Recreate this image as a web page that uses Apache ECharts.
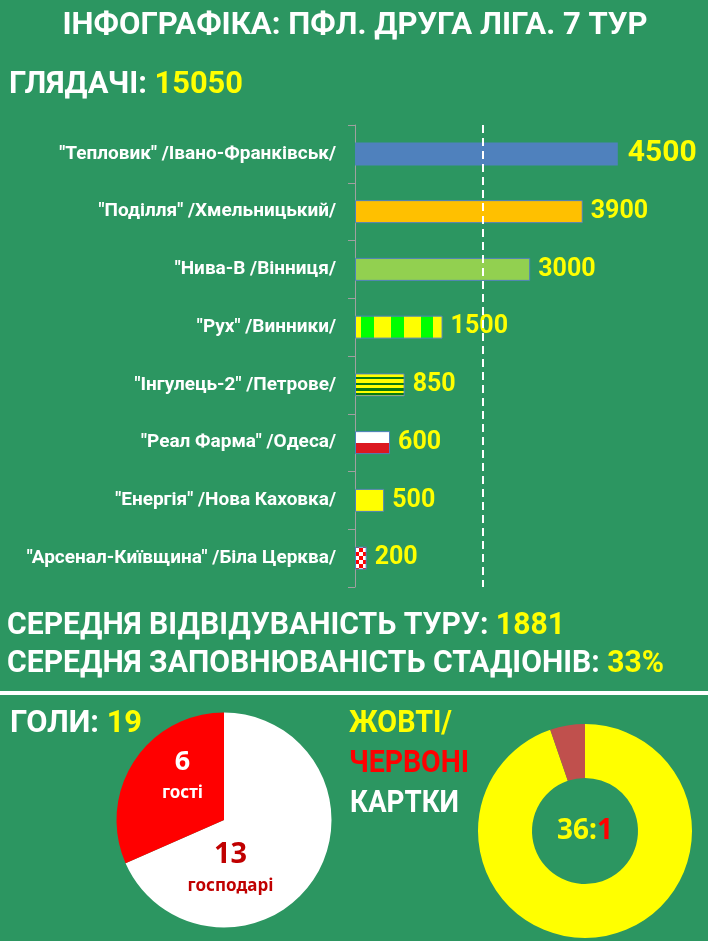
<!DOCTYPE html>
<html>
<head>
<meta charset="utf-8">
<script src="https://cdn.jsdelivr.net/npm/echarts@6/dist/echarts.min.js"></script>
<style>
  html, body { margin: 0; padding: 0; background: #2c9661; }
  #chart { width: 708px; height: 941px; }
</style>
</head>
<body>
<div id="chart"></div>
<script>
// ---- data ----
var clubs = [
  '"Тепловик" /Івано-Франківськ/',
  '"Поділля" /Хмельницький/',
  '"Нива-В /Вінниця/',
  '"Рух" /Винники/',
  '"Інгулець-2" /Петрове/',
  '"Реал Фарма" /Одеса/',
  '"Енергія" /Нова Каховка/',
  '"Арсенал-Київщина" /Біла Церква/'
];
var spectators = [4500, 3900, 3000, 1500, 850, 600, 500, 200];
var dashedAt = 2190;            // dashed reference line
var totalSpectators = 15050;
var avgAttendance = 1881;
var avgFill = '33%';

var goalNames = ['господарі', 'гості'];
var goalValues = [13, 6];
var totalGoals = 19;

var cardCounts = [36, 1];       // yellow : red (text)
var cardSlices = [36, 2];       // slice sizes as drawn

// ---- layout / style ----
var BG = '#2c9661';
var YEL = '#FFFF00';
var GRID_LEFT = 355, GRID_TOP = 125;
var FONT = 'Roboto';

function hardStops(dir, stops) {
  var cs = [];
  for (var i = 0; i < stops.length; i++) {
    var end = i + 1 < stops.length ? stops[i + 1][0] : 1;
    cs.push({ offset: stops[i][0], color: stops[i][1] });
    cs.push({ offset: end, color: stops[i][1] });
  }
  return { type: 'linear', x: 0, y: 0, x2: dir === 'x' ? 1 : 0, y2: dir === 'y' ? 1 : 0, colorStops: cs };
}

function checker(size, a, b) {
  var c = document.createElement('canvas');
  c.width = c.height = size * 2;
  var g = c.getContext('2d');
  g.fillStyle = a; g.fillRect(0, 0, size * 2, size * 2);
  g.fillStyle = b; g.fillRect(0, 0, size, size); g.fillRect(size, size, size, size);
  return c;
}

var G = '#00FF00', DG = '#0a7a10';
var barFills = [
  '#4F81BD',
  '#FFC000',
  '#92D050',
  hardStops('x', [[0, YEL], [0.069, G], [0.219, YEL], [0.412, G], [0.558, YEL], [0.75, G], [0.892, YEL]]),
  hardStops('y', [[0, YEL], [0.149, DG], [0.254, YEL], [0.403, DG], [0.493, YEL], [0.642, DG], [0.746, YEL], [0.866, DG], [0.94, YEL]]),
  hardStops('y', [[0, '#FFFFFF'], [0.5, '#DC1820']]),
  YEL,
  { image: checker(4, '#FFFFFF', '#FF0000'), repeat: 'repeat', x: GRID_LEFT, y: 0 }
];

// fitted heading text (condensed by scaleX to the measured width)
var mctx = document.createElement('canvas').getContext('2d');
function heading(parts, x, y, width, size, align) {
  var font = 'bold ' + size + 'px ' + FONT;
  mctx.font = font;
  var full = parts.map(function (p) { return p[0]; }).join('');
  var sx = width / mctx.measureText(full).width;
  var rich = {}, str = '';
  parts.forEach(function (p, i) {
    rich['p' + i] = { fill: p[1], fontSize: size, fontWeight: 'bold', fontFamily: FONT };
    str += '{p' + i + '|' + p[0] + '}';
  });
  return {
    type: 'text', x: x, y: y, scaleX: sx, silent: true,
    style: {
      text: str, rich: rich, fontSize: size, fontWeight: 'bold', fontFamily: FONT,
      textAlign: align || 'left', align: align || 'left',
      textVerticalAlign: 'middle', verticalAlign: 'middle'
    }
  };
}

var chart = echarts.init(document.getElementById('chart'));

var option = {
  backgroundColor: BG,
  animation: false,
  textStyle: { fontFamily: FONT },
  grid: { left: GRID_LEFT, top: GRID_TOP, width: 292, height: 462 },
  xAxis: { type: 'value', min: 0, max: 5000, show: false },
  yAxis: {
    type: 'category',
    inverse: true,
    data: clubs,
    axisLine: { show: true, lineStyle: { color: '#a0a0a0', width: 1 } },
    axisTick: { show: true, inside: false, length: 7, lineStyle: { color: '#a0a0a0', width: 1 } },
    axisLabel: { color: '#FFFFFF', fontSize: 19, fontWeight: 'bold', margin: 19 },
    splitLine: { show: false }
  },
  series: [
    {
      type: 'bar',
      barWidth: 23,
      silent: true,
      data: spectators.map(function (v, i) {
        return {
          value: v,
          itemStyle: { color: barFills[i], borderColor: '#4F81BD', borderWidth: i === 0 ? 0 : 1 },
          label: i === 0 ? { fontSize: 30, distance: 10 } : {}
        };
      }),
      label: {
        show: true, position: 'right', distance: 8,
        color: YEL, fontSize: 25, fontWeight: 'bold', fontFamily: FONT
      },
      markLine: {
        silent: true,
        symbol: 'none',
        label: { show: false },
        lineStyle: { color: '#FFFFFF', width: 2, type: [8, 5] },
        data: [{ xAxis: dashedAt }]
      }
    },
    {
      type: 'pie',
      center: [224, 820],
      radius: 107.5,
      silent: true,
      startAngle: 90,
      data: goalNames.map(function (n, i) {
        return {
          name: n, value: goalValues[i],
          itemStyle: { color: i === 0 ? '#FFFFFF' : '#FF0000' },
          label: i === 0
            ? { offset: [-41, 19], rich: { v: { color: '#C00000', fontSize: 29 }, n: { color: '#C00000' } } }
            : { offset: [6, -12], rich: { v: { color: '#FFFFFF', fontSize: 27 }, n: { color: '#FFFFFF' } } }
        };
      }),
      label: {
        show: true, position: 'inside',
        formatter: '{v|{c}}\n{n|{b}}',
        rich: {
          v: { fontFamily: 'Noto Sans', fontWeight: 'bold', fontSize: 28, lineHeight: 32 },
          n: { fontFamily: 'Noto Sans', fontWeight: 'bold', fontSize: 17, lineHeight: 30 }
        }
      },
      labelLine: { show: false }
    },
    {
      type: 'pie',
      center: [585, 831],
      radius: [53, 107],
      silent: true,
      startAngle: 90,
      data: [
        {
          name: 'жовті', value: cardSlices[0], itemStyle: { color: YEL },
          label: {
            show: true, position: 'center',
            formatter: '{y|' + cardCounts[0] + ':}{r|' + cardCounts[1] + '}',
            rich: {
              y: { color: YEL, fontFamily: 'Noto Sans', fontWeight: 'bold', fontSize: 28 },
              r: { color: '#FF0000', fontFamily: 'Noto Sans', fontWeight: 'bold', fontSize: 28 }
            }
          }
        },
        { name: 'червоні', value: cardSlices[1], itemStyle: { color: '#C0504D' }, label: { show: false } }
      ],
      labelLine: { show: false }
    }
  ],
  graphic: [
    heading([['ІНФОГРАФІКА: ПФЛ. ДРУГА ЛІГА. 7 ТУР', '#FFFFFF']], 355, 26, 585, 32, 'center'),
    heading([['ГЛЯДАЧІ: ', '#FFFFFF'], [String(totalSpectators), YEL]], 9, 85, 234, 31),
    heading([['СЕРЕДНЯ ВІДВІДУВАНІСТЬ ТУРУ: ', '#FFFFFF'], [String(avgAttendance), YEL]], 7, 626, 558, 31),
    heading([['СЕРЕДНЯ ЗАПОВНЮВАНІСТЬ СТАДІОНІВ: ', '#FFFFFF'], [avgFill, YEL]], 7, 664, 657, 31),
    { type: 'rect', silent: true, shape: { x: 0, y: 691, width: 708, height: 4 }, style: { fill: '#FFFFFF' } },
    heading([['ГОЛИ: ', '#FFFFFF'], [String(totalGoals), YEL]], 10, 724, 132, 31),
    heading([['ЖОВТІ/', YEL]], 349, 724, 103, 31),
    heading([['ЧЕРВОНІ', '#FF0000']], 349, 764, 120, 31),
    heading([['КАРТКИ', '#FFFFFF']], 350, 804, 109, 31)
  ]
};

chart.setOption(option);
</script>
</body>
</html>
